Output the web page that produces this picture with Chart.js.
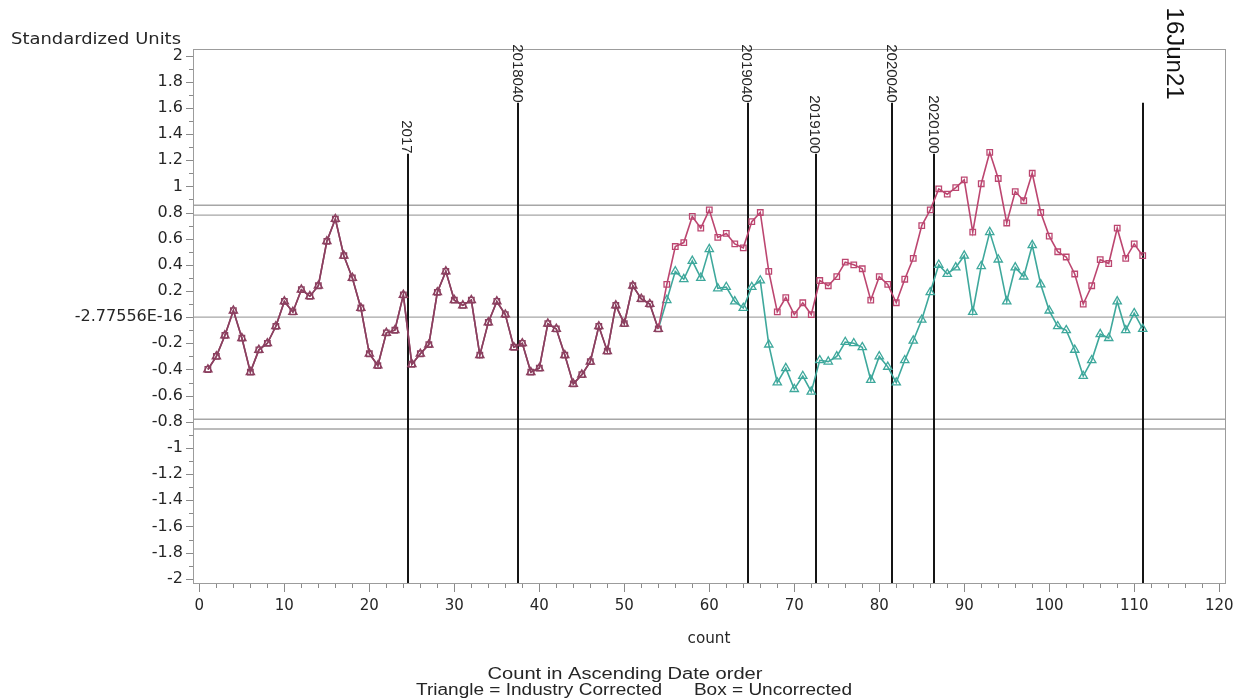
<!DOCTYPE html>
<html>
<head>
<meta charset="utf-8">
<title>Standardized Units by count</title>
<script src="https://cdn.jsdelivr.net/npm/chart.js@4"></script>
<style>
  html, body { margin: 0; padding: 0; background: #fff; }
  #wrap { width: 1242px; height: 700px; }
</style>
</head>
<body>
<div id="wrap"><canvas id="chart" width="1242" height="700"></canvas></div>
<script>
/* ── DATA ─────────────────────────────────────────────────── */
const counts = [1,2,3,4,5,6,7,8,9,10,11,12,13,14,15,16,17,18,19,20,21,22,23,24,25,26,27,28,29,30,
  31,32,33,34,35,36,37,38,39,40,41,42,43,44,45,46,47,48,49,50,51,52,53,54,55,56,57,58,59,60,
  61,62,63,64,65,66,67,68,69,70,71,72,73,74,75,76,77,78,79,80,81,82,83,84,85,86,87,88,89,90,
  91,92,93,94,95,96,97,98,99,100,101,102,103,104,105,106,107,108,109,110,111];

// Box = Uncorrected
const uncorrected = [-0.40,-0.30,-0.14,0.05,-0.16,-0.42,-0.25,-0.20,-0.07,0.12,
  0.04,0.21,0.16,0.24,0.58,0.75,0.47,0.30,0.07,-0.28,
  -0.37,-0.12,-0.10,0.17,-0.36,-0.28,-0.21,0.19,0.35,0.13,
  0.09,0.13,-0.29,-0.04,0.12,0.02,-0.23,-0.20,-0.42,-0.39,
  -0.05,-0.09,-0.29,-0.51,-0.44,-0.34,-0.07,-0.26,0.09,-0.05,
  0.24,0.14,0.10,-0.09,0.25,0.54,0.57,0.77,0.68,0.82,
  0.61,0.64,0.56,0.53,0.73,0.80,0.35,0.04,0.15,0.02,
  0.11,0.02,0.28,0.24,0.31,0.42,0.40,0.37,0.13,0.31,
  0.25,0.11,0.29,0.45,0.70,0.82,0.98,0.94,0.99,1.05,
  0.65,1.02,1.26,1.06,0.72,0.96,0.89,1.10,0.80,0.62,
  0.50,0.46,0.33,0.10,0.24,0.44,0.41,0.68,0.45,0.56,
  0.47];

// Triangle = Industry Corrected
const corrected = [-0.40,-0.30,-0.14,0.05,-0.16,-0.42,-0.25,-0.20,-0.07,0.12,
  0.04,0.21,0.16,0.24,0.58,0.75,0.47,0.30,0.07,-0.28,
  -0.37,-0.12,-0.10,0.17,-0.36,-0.28,-0.21,0.19,0.35,0.13,
  0.09,0.13,-0.29,-0.04,0.12,0.02,-0.23,-0.20,-0.42,-0.39,
  -0.05,-0.09,-0.29,-0.51,-0.44,-0.34,-0.07,-0.26,0.09,-0.05,
  0.24,0.14,0.10,-0.09,0.13,0.35,0.29,0.43,0.30,0.52,
  0.22,0.23,0.12,0.07,0.23,0.28,-0.21,-0.50,-0.39,-0.55,
  -0.45,-0.57,-0.33,-0.34,-0.30,-0.19,-0.20,-0.23,-0.48,-0.30,
  -0.38,-0.50,-0.33,-0.18,-0.02,0.19,0.40,0.33,0.38,0.47,
  0.04,0.39,0.65,0.44,0.12,0.38,0.31,0.55,0.25,0.05,
  -0.07,-0.10,-0.25,-0.45,-0.33,-0.13,-0.16,0.12,-0.10,0.03,
  -0.09];

const yTickValues = [-2,-1.8,-1.6,-1.4,-1.2,-1,-0.8,-0.6,-0.4,-0.2,0,0.2,0.4,0.6,0.8,1,1.2,1.4,1.6,1.8,2];
const yTickLabels = ['-2','-1.8','-1.6','-1.4','-1.2','-1','-0.8','-0.6','-0.4','-0.2','-2.77556E-16',
  '0.2','0.4','0.6','0.8','1','1.2','1.4','1.6','1.8','2'];
const xTickValues = [0,10,20,30,40,50,60,70,80,90,100,110,120];

const refLevels = [-0.855,-0.78,0,0.78,0.855];
const markerCounts = [24.5,37.5,64.5,72.5,81.5,86.5,111];
const markerTops = [1.25,1.64,1.64,1.25,1.64,1.25,1.64];
const markerLabels = ['2017','2018040','2019040','2019100','2020040','2020100','16Jun21'];

/* ── STYLE ────────────────────────────────────────────────── */
const RED = '#bc4670', TEAL = '#3ea89c', SHARED = '#8c4060';
const SHARED_UNTIL = 53;   // index where both series still coincide
const TXT = '#262626';

function drawFit(ctx, text, x, y, width, font, align) {
  ctx.save();
  ctx.font = font;
  const w = ctx.measureText(text).width;
  ctx.translate(x, y);
  ctx.scale(width / w, 1);
  ctx.textAlign = align || 'center';
  ctx.textBaseline = 'alphabetic';
  ctx.fillText(text, 0, 0);
  ctx.restore();
}

/* ── OVERLAY: reference lines, markers, frame, ticks, titles ── */
const overlay = {
  id: 'overlay',
  beforeDatasetsDraw(chart) {
    const { ctx, chartArea: a, scales: { x, y } } = chart;
    ctx.save();
    ctx.strokeStyle = '#a6a6a6';
    ctx.lineWidth = 1.4;
    refLevels.forEach(v => {
      const py = y.getPixelForValue(v);
      ctx.beginPath(); ctx.moveTo(a.left, py); ctx.lineTo(a.right, py); ctx.stroke();
    });
    ctx.strokeStyle = '#151515';
    ctx.lineWidth = 2;
    markerCounts.forEach((c, i) => {
      const px = Math.round(x.getPixelForValue(c));
      const top = y.getPixelForValue(markerTops[i]);
      ctx.beginPath(); ctx.moveTo(px, top); ctx.lineTo(px, a.bottom); ctx.stroke();
    });
    ctx.restore();
  },
  afterDraw(chart) {
    const { ctx, chartArea: a, scales: { x, y } } = chart;
    ctx.save();
    // frame
    ctx.strokeStyle = '#9c9c9c';
    ctx.lineWidth = 1;
    ctx.strokeRect(a.left + 0.5, a.top + 0.5, a.right - a.left - 1, a.bottom - a.top - 1);

    // ticks
    ctx.strokeStyle = '#8a8a8a';
    for (let i = 0; i <= 40; i++) {
      const py = Math.round(y.getPixelForValue(-2 + i * 0.1)) + 0.5;
      const len = i % 2 === 0 ? 7 : 4;
      ctx.beginPath(); ctx.moveTo(a.left - len, py); ctx.lineTo(a.left, py); ctx.stroke();
    }
    for (let i = 0; i <= 60; i++) {
      const px = Math.round(x.getPixelForValue(i * 2)) + 0.5;
      const len = i % 5 === 0 ? 8 : 4;
      ctx.beginPath(); ctx.moveTo(px, a.bottom); ctx.lineTo(px, a.bottom + len); ctx.stroke();
    }

    // marker labels (rotated, reading downwards)
    markerLabels.forEach((t, i) => {
      const big = i === markerLabels.length - 1;
      const px = x.getPixelForValue(markerCounts[i]) + (big ? 31 : -1);
      const end = y.getPixelForValue(markerTops[i]) - (big ? 3 : 0);
      ctx.save();
      ctx.translate(px, end);
      ctx.rotate(Math.PI / 2);
      ctx.fillStyle = big ? '#111' : TXT;
      ctx.font = big ? '24px "Liberation Sans", Arial, sans-serif' : '15px "Liberation Sans", Arial, sans-serif';
      ctx.textAlign = 'right';
      ctx.textBaseline = 'middle';
      ctx.fillText(t, 0, 0);
      ctx.restore();
    });

    // titles
    ctx.fillStyle = TXT;
    drawFit(ctx, 'Standardized Units', 11, 44, 170, '15px "DejaVu Sans", sans-serif', 'left');
    drawFit(ctx, 'count', 709, 643, 43, '15px "DejaVu Sans", sans-serif');
    drawFit(ctx, 'Count in Ascending Date order', 625, 679, 275, '16px "Liberation Sans", Arial, sans-serif');
    drawFit(ctx, 'Triangle = Industry Corrected      Box = Uncorrected', 634, 695, 436, '16px "Liberation Sans", Arial, sans-serif');
    ctx.restore();
  }
};

/* ── CHART ────────────────────────────────────────────────── */
const sharedOr = col => c => (c.dataIndex <= SHARED_UNTIL ? SHARED : col);

new Chart(document.getElementById('chart'), {
  type: 'line',
  data: {
    datasets: [
      {
        label: 'Industry Corrected',
        data: counts.map((c, i) => ({ x: c, y: corrected[i] })),
        borderColor: TEAL,
        borderWidth: 1.6,
        segment: { borderColor: s => (s.p1DataIndex <= SHARED_UNTIL ? SHARED : TEAL) },
        pointStyle: 'triangle',
        pointRadius: 4.8,
        pointBorderWidth: 1.3,
        pointBorderColor: sharedOr(TEAL),
        pointBackgroundColor: 'rgba(255,255,255,0)',
        tension: 0,
        order: 2
      },
      {
        label: 'Uncorrected',
        data: counts.map((c, i) => ({ x: c, y: uncorrected[i] })),
        borderColor: RED,
        borderWidth: 1.6,
        segment: { borderColor: s => (s.p1DataIndex <= SHARED_UNTIL ? SHARED : RED) },
        pointStyle: 'rect',
        pointRadius: 3.9,
        pointBorderWidth: 1.3,
        pointBorderColor: sharedOr(RED),
        pointBackgroundColor: 'rgba(255,255,255,0)',
        tension: 0,
        order: 1
      }
    ]
  },
  options: {
    responsive: false,
    animation: false,
    events: [],
    layout: { padding: { top: 49, right: 16, left: 0, bottom: 0 } },
    plugins: { legend: { display: false }, tooltip: { enabled: false } },
    scales: {
      x: {
        type: 'linear',
        min: -0.75,
        max: 120.8,
        afterBuildTicks: s => { s.ticks = xTickValues.map(v => ({ value: v })); },
        afterFit: s => { s.height = 116; s.paddingLeft = 0; s.paddingRight = 0; },
        grid: { display: false, drawTicks: false },
        border: { display: false },
        ticks: {
          padding: 13,
          maxRotation: 0,
          autoSkip: false,
          color: TXT,
          font: { family: '"DejaVu Sans", sans-serif', size: 15 },
          callback: v => String(v)
        }
      },
      y: {
        type: 'linear',
        min: -2.04,
        max: 2.05,
        afterBuildTicks: s => { s.ticks = yTickValues.map(v => ({ value: v })); },
        afterFit: s => { s.width = 193; s.paddingTop = 0; s.paddingBottom = 0; },
        grid: { display: false, drawTicks: false },
        border: { display: false },
        ticks: {
          padding: 10,
          autoSkip: false,
          color: TXT,
          font: { family: '"DejaVu Sans", sans-serif', size: 16 },
          callback: (v, i) => yTickLabels[i]
        }
      }
    }
  },
  plugins: [overlay]
});
</script>
</body>
</html>
